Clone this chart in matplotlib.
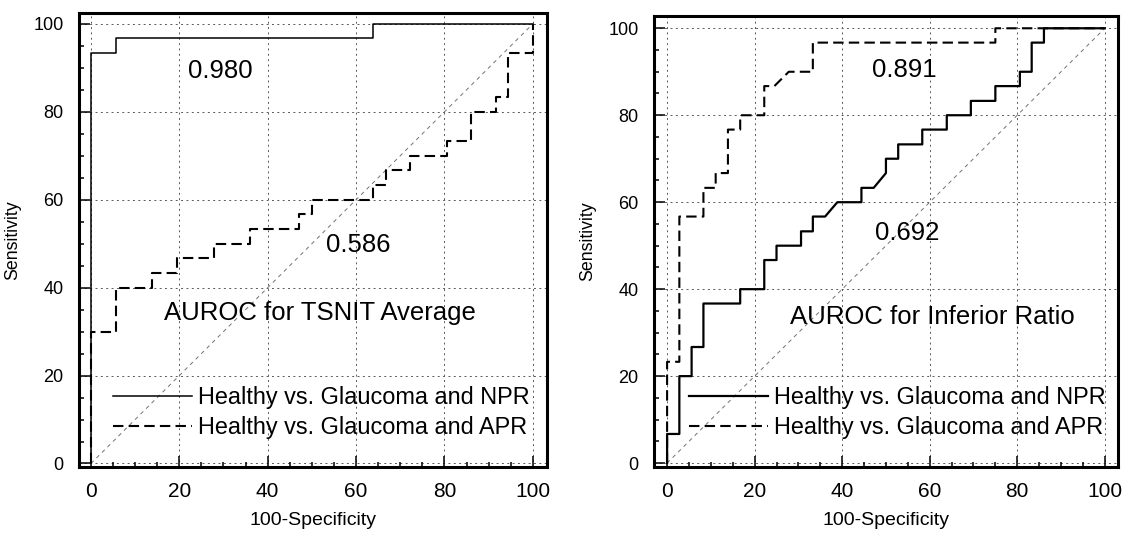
"""
AUROC curves: TSNIT Average vs Inferior Ratio
"""

import matplotlib
matplotlib.use("Agg")
import matplotlib.pyplot as plt
from matplotlib.ticker import MultipleLocator

plt.rcParams["font.family"] = ["Liberation Sans", "DejaVu Sans"]

# ---- ROC vertices (100-Specificity, Sensitivity) ----
tsnit_npr_x = [0, 0, 5.6, 5.6, 63.9, 63.9, 100]
tsnit_npr_y = [0, 93.3, 93.3, 96.7, 96.7, 100, 100]

tsnit_apr_x = [0, 0, 5.6, 5.6, 13.9, 13.9, 19.4, 19.4, 27.8, 27.8, 36.1, 36.1,
               47.2, 47.2, 50.0, 50.0, 63.9, 63.9, 66.7, 66.7, 72.2, 72.2,
               80.6, 80.6, 86.1, 86.1, 91.7, 91.7, 94.4, 94.4, 100, 100]
tsnit_apr_y = [0, 30, 30, 40, 40, 43.3, 43.3, 46.7, 46.7, 50, 50, 53.3,
               53.3, 56.7, 56.7, 60, 60, 63.3, 63.3, 66.7, 66.7, 70,
               70, 73.3, 73.3, 80, 80, 83.3, 83.3, 93.3, 93.3, 100]

inf_npr_x = [0, 0, 2.8, 2.8, 5.6, 5.6, 8.3, 8.3, 16.7, 16.7, 22.2, 22.2,
             25.0, 25.0, 30.6, 30.6, 33.3, 33.3, 36.1, 38.9, 44.4, 44.4,
             47.2, 50.0, 50.0, 52.8, 52.8, 58.3, 58.3, 63.9, 63.9, 69.4,
             69.4, 75.0, 75.0, 80.6, 80.6, 83.3, 83.3, 86.1, 86.1, 100]
inf_npr_y = [0, 6.7, 6.7, 20, 20, 26.7, 26.7, 36.7, 36.7, 40, 40, 46.7,
             46.7, 50, 50, 53.3, 53.3, 56.7, 56.7, 60, 60, 63.3,
             63.3, 66.7, 70, 70, 73.3, 73.3, 76.7, 76.7, 80, 80,
             83.3, 83.3, 86.7, 86.7, 90, 90, 96.7, 96.7, 100, 100]

inf_apr_x = [0, 0, 2.8, 2.8, 8.3, 8.3, 11.1, 11.1, 13.9, 13.9, 16.7, 16.7,
             22.2, 22.2, 24.5, 27.8, 33.3, 33.3, 75.0, 75.0, 100]
inf_apr_y = [0, 23.3, 23.3, 56.7, 56.7, 63.3, 63.3, 66.7, 66.7, 76.7, 76.7, 80,
             80, 86.7, 86.7, 90, 90, 96.7, 96.7, 100, 100]

legend_labels = ["Healthy vs. Glaucoma and NPR", "Healthy vs. Glaucoma and APR"]
tick_values = [0, 20, 40, 60, 80, 100]

panels = [
    {"npr": (tsnit_npr_x, tsnit_npr_y), "apr": (tsnit_apr_x, tsnit_apr_y),
     "auc_npr": ("0.980", 29.2, 87.7), "auc_apr": ("0.586", 60.5, 48.2),
     "title": ("AUROC for TSNIT Average", 51.8, 32.7),
     "rect": [0.0702, 0.1238, 0.416, 0.852], "xlim": (-2.7, 103.2), "ylim": (-0.8, 102.5),
     "npr_lw": 1.1},
    {"npr": (inf_npr_x, inf_npr_y), "apr": (inf_apr_x, inf_apr_y),
     "auc_npr": ("0.692", 54.9, 51.3), "auc_apr": ("0.891", 54.3, 88.8),
     "title": ("AUROC for Inferior Ratio", 60.6, 32.1),
     "rect": [0.5813, 0.1238, 0.4124, 0.846], "xlim": (-3.0, 103.0), "ylim": (-0.9, 102.8),
     "npr_lw": 1.6},
]

fig = plt.figure(figsize=(11.25, 5.33), dpi=100)

for p in panels:
    ax = fig.add_axes(p["rect"])
    ax.set_xlim(*p["xlim"])
    ax.set_ylim(*p["ylim"])

    # grid + chance diagonal
    for v in tick_values:
        ax.axvline(v, color="0.35", lw=0.7, ls=(0, (2, 3.5)), zorder=1)
        ax.axhline(v, color="0.35", lw=0.7, ls=(0, (2, 3.5)), zorder=1)
    ax.plot([0, 100], [0, 100], color="0.45", lw=0.7, ls=(0, (4, 4)), zorder=1)

    h1, = ax.plot(*p["npr"], color="black", lw=p["npr_lw"], zorder=3)
    h2, = ax.plot(*p["apr"], color="black", lw=1.5, ls=(0, (5, 2.5)), zorder=3)

    for txt, x, y in [p["auc_npr"], p["auc_apr"]]:
        ax.text(x, y, txt, ha="center", va="baseline", fontsize=18.5)
    t, x, y = p["title"]
    ax.text(x, y, t, ha="center", va="baseline", fontsize=18.5)

    ax.legend([h1, h2], legend_labels, loc="center left", bbox_to_anchor=(5, 11.6),
              bbox_transform=ax.transData, frameon=False, fontsize=16.9,
              borderpad=0, borderaxespad=0, handlelength=3.35, handletextpad=0.26,
              labelspacing=0.3)

    ax.set_xticks(tick_values)
    ax.set_yticks(tick_values)
    ax.xaxis.set_minor_locator(MultipleLocator(5))
    ax.yaxis.set_minor_locator(MultipleLocator(5))
    ax.tick_params(which="both", direction="in", top=False, right=False, width=1.1)
    ax.tick_params(which="major", length=8, pad=11)
    ax.tick_params(axis="x", which="major", labelsize=15)
    ax.tick_params(axis="y", which="major", labelsize=13)
    ax.tick_params(which="minor", length=3.6)
    for s in ax.spines.values():
        s.set_linewidth(2.2)

    ax.set_xlabel("100-Specificity", fontsize=14, labelpad=8)
    ax.set_ylabel("Sensitivity", fontsize=12.8, labelpad=9)

fig.savefig("out.png", dpi=100)
